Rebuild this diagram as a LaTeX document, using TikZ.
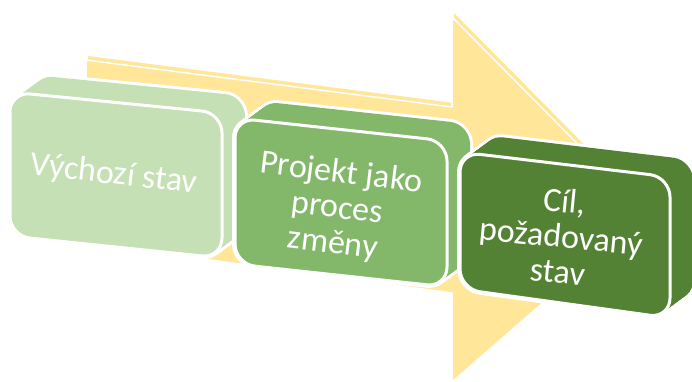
\documentclass[tikz,border=0pt]{standalone}
\usepackage{fontspec}
\setmainfont{Carlito}
\definecolor{arrowyellow}{RGB}{255,230,153}
\definecolor{lightgreen}{RGB}{197,224,180}
\definecolor{midgreen}{RGB}{131,183,106}
\definecolor{darkgreen}{RGB}{84,130,53}
\tikzset{
  arrowface/.style={fill=arrowyellow, draw=white, line width=1.5pt, line join=round},
  blockrim/.style={draw=white, line width=6pt, rounded corners=20pt},
  blockfront/.style={draw=white, line width=3pt, rounded corners=20pt},
  blocklabel/.style={text=white, font=\fontsize{34}{35.5}\selectfont, align=center, inner sep=0pt},
}
% An extruded rounded block: colour, then the four front corners (x,y)
\newcommand\solidblock[9]{%
  \foreach \k in {0,...,20}{%
    \draw[blockrim, shift={(1.15*\k,-0.85*\k)}] (#2,#3) -- (#4,#5) -- (#6,#7) -- (#8,#9) -- cycle;}
  \foreach \k in {0,...,20}{%
    \fill[#1, rounded corners=20pt, shift={(1.15*\k,-0.85*\k)}] (#2,#3) -- (#4,#5) -- (#6,#7) -- (#8,#9) -- cycle;}
  \draw[blockfront, fill=#1] (#2,#3) -- (#4,#5) -- (#6,#7) -- (#8,#9) -- cycle;
}
\begin{document}
\begin{tikzpicture}[x=1pt,y=-1pt]
\useasboundingbox (0,0) rectangle (692,381);

% big background arrow, with its thin top face
\fill[arrowyellow, shift={(2,-4)}] (86,60) -- (452,107) -- (452,17) -- (646,213)
  -- (452,382) -- (452,293) -- (86,243) -- cycle;
\draw[arrowface] (86,60) -- (452,107) -- (452,17) -- (646,213)
  -- (452,382) -- (452,293) -- (86,243) -- cycle;

% the three stages
\solidblock{lightgreen}{10}{92}{222}{113}{222}{258}{10}{236}
\solidblock{midgreen}{235}{118}{447}{141}{447}{287}{235}{264}
\solidblock{darkgreen}{460}{152}{670}{177}{670}{318}{460}{289}

\node[blocklabel, rotate=-6.5] (start) at (114,175) {Výchozí stav};
\node[blocklabel, rotate=-7] (process) at (337,209) {Projekt jako\\proces\\změny};
\node[blocklabel, rotate=-5.5] (goal) at (561,236) {Cíl,\\požadovaný\\stav};
\end{tikzpicture}
\end{document}
